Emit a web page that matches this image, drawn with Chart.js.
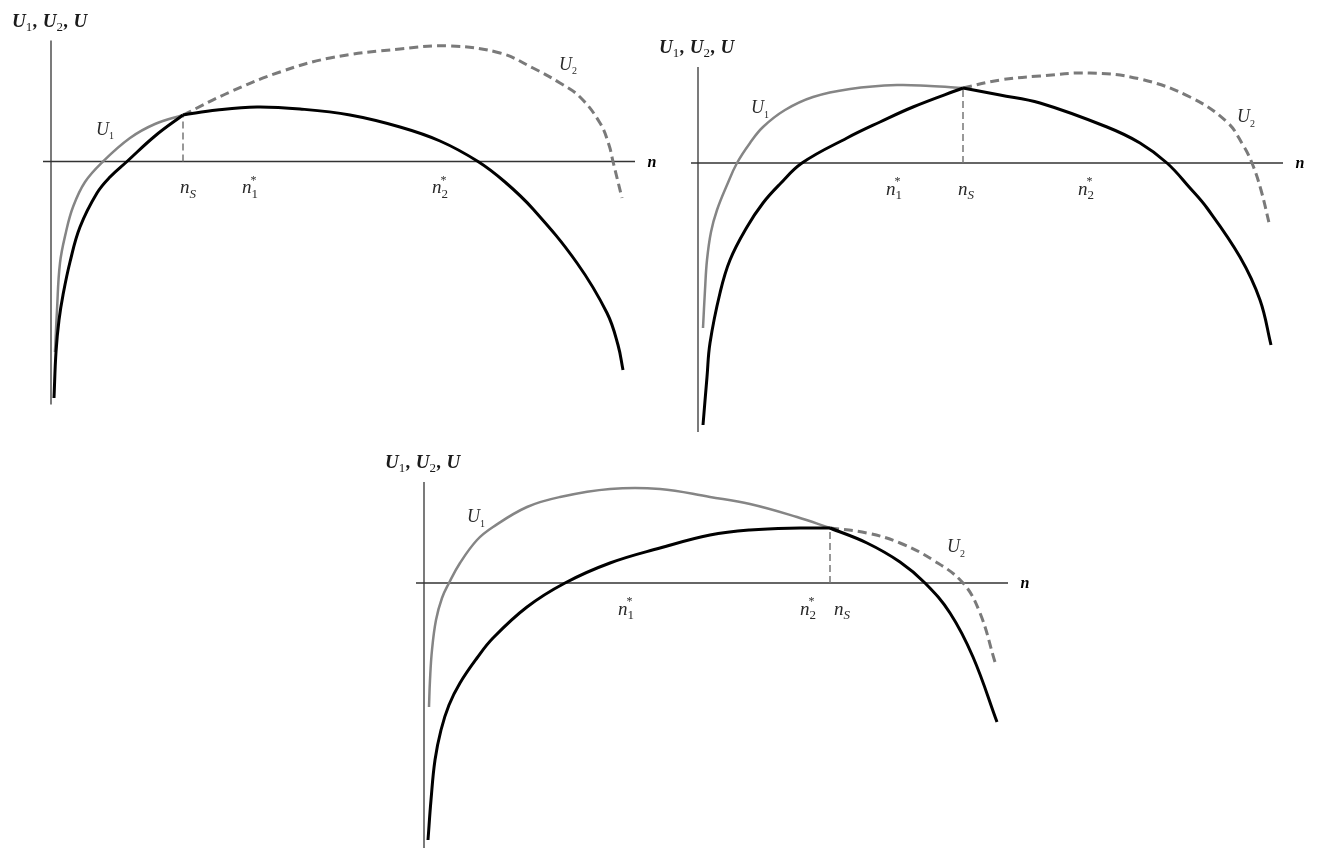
<!DOCTYPE html>
<html>
<head>
<meta charset="utf-8">
<script src="https://cdn.jsdelivr.net/npm/chart.js@4.4.1/dist/chart.umd.min.js"></script>
<style>
  body { margin: 0; background: #fff; width: 1321px; height: 850px; position: relative; overflow: hidden; }
  canvas { position: absolute; }
</style>
</head>
<body>
<canvas id="c1" width="660" height="420" style="left:0px;top:0px"></canvas>
<canvas id="c2" width="666" height="430" style="left:655px;top:20px"></canvas>
<canvas id="c3" width="690" height="405" style="left:370px;top:445px"></canvas>
<script>
// values, origin = axes crossing, y up

// panel 1 (top left)
const p1U1 = [[4,-190.5],[6,-148.5],[9,-101.5],[15,-70.5],[22,-45.5],[34,-20.5],[52,0],[79,23.5],[104,37.5],[132,46.5]];
const p1U = [[3,-236.5],[5,-190.5],[8,-158.5],[12,-133.5],[19,-100.5],[29,-65.5],[46,-31.5],[59,-15.5],[76,0],[104,25.5],[132,46.5],
             [166,51.5],[206,54.5],[249,52.5],[299,46.5],[349,34.5],[389,20.5],[427,0],[454,-20.5],[482,-47.5],[526,-101.5],
             [556,-151.5],[567,-183.5],[572,-208.5]];
const p1U2 = [[132,46.5],[179,69.5],[229,89.5],[279,103.5],[349,112.5],[399,115.5],[449,108.5],[482,93.5],[509,78.5],
              [529,64.5],[549,38.5],[558,16.5],[562,0],[571,-36.5]];
const p1nS = 132;
const p1XAxis = [-8, 584];
const p1YAxis = [-243, 121];
const p1Ticks = [['n','S','',137], ['n','1','*',199], ['n','2','*',389]];
const p1Names = [['U','1',54,32], ['U','2',517,97]];

// panel 2 (top right)
const p2U1 = [[5,-165],[7,-127],[9,-97],[13,-69],[19,-47],[29,-22],[39,0],[52,20],[65,36],[87,53],[115,66],[152,74],[199,78],[232,77],[265,75]];
const p2U = [[5,-262],[9,-214],[12,-180],[22,-130],[32,-97],[49,-64],[65,-40],[82,-21],[104,0],[149,25],[182,41],[215,56],[265,75],
             [302,68],[342,60],[409,36],[442,20],[469,0],[492,-25],[509,-45],[542,-94],[562,-137],[573,-182]];
const p2U2 = [[265,75],[302,83],[342,87],[392,90],[442,84],[492,66],[529,41],[545,18],[554,0],[563,-27],[572,-64]];
const p2nS = 265;
const p2XAxis = [-7, 585];
const p2YAxis = [-269, 96];
const p2Ticks = [['n','1','*',196], ['n','S','',268], ['n','2','*',388]];
const p2Names = [['U','1',62,55], ['U','2',548,46]];

// panel 3 (bottom)
const p3U1 = [[5,-124],[6,-97],[8,-67],[12,-37],[18,-15],[25,0],[36,20],[53,43],[69,56],[103,76],[136,86],[186,94],[236,94],
              [286,86],[326,79],[373,66],[406,55]];
const p3U = [[4,-257],[7,-217],[11,-177],[17,-147],[25,-122],[36,-100],[53,-75],[69,-55],[103,-24],[141,0],[186,20],[236,35],[286,48],
             [326,53],[376,55],[406,55],[443,40],[476,21],[501,0],[526,-30],[549,-74],[573,-139]];
const p3U2 = [[406,55],[443,50],[476,40],[509,23],[539,0],[556,-30],[571,-79]];
const p3nS = 406;
const p3XAxis = [-8, 584];
const p3YAxis = [-265, 101];
const p3Ticks = [['n','1','*',202], ['n','2','*',384], ['n','S','',418]];
const p3Names = [['U','1',52,66], ['U','2',532,36]];

const SERIF = '"Liberation Serif", "DejaVu Serif", serif';

function pts(arr) {
  return arr.map(p => ({ x: p[0], y: p[1] }));
}

// letter with subscript and optional star above it
function drawSymbol(ctx, base, sub, sup, cx, cy, size, subSize) {
  ctx.font = 'italic ' + size + 'px ' + SERIF;
  const wb = ctx.measureText(base).width;
  const subFont = (sub === 'S' ? 'italic ' : '') + subSize + 'px ' + SERIF;
  ctx.font = subFont;
  const ws = ctx.measureText(sub).width;
  const x0 = cx - (wb + ws) / 2;
  const by = cy + size * 0.3;
  ctx.font = 'italic ' + size + 'px ' + SERIF;
  ctx.fillText(base, x0, by);
  ctx.font = subFont;
  ctx.fillText(sub, x0 + wb, by + size * 0.25);
  if (sup) {
    ctx.font = Math.round(subSize * 0.9) + 'px ' + SERIF;
    ctx.fillText(sup, x0 + wb - 1, by - size * 0.5);
  }
}

function drawTitle(ctx, x, cy) {
  const parts = [['U', 0], ['1', 1], [', ', 0], ['U', 0], ['2', 1], [', ', 0], ['U', 0]];
  let px = x;
  const by = cy + 6;
  parts.forEach(p => {
    ctx.font = p[1] ? '13px ' + SERIF : 'bold italic 19px ' + SERIF;
    ctx.fillText(p[0], px, by + (p[1] ? 4 : 0));
    px += ctx.measureText(p[0]).width + (p[1] ? 1 : 0);
  });
}

const labelPlugin = {
  id: 'mathLabels',
  afterDraw(chart, args, opts) {
    const ctx = chart.ctx;
    const xs = chart.scales.x, ys = chart.scales.y;
    ctx.save();
    ctx.textBaseline = 'alphabetic';
    ctx.fillStyle = '#2a2a2a';
    opts.ticks.forEach(t => {
      drawSymbol(ctx, t[0], t[1], t[2], xs.getPixelForValue(t[3]), ys.getPixelForValue(0) + 26, 19, 13);
    });
    opts.names.forEach(t => {
      drawSymbol(ctx, t[0], t[1], '', xs.getPixelForValue(t[2]), ys.getPixelForValue(t[3]), 18, 10);
    });
    ctx.fillStyle = '#000';
    ctx.font = 'bold italic 16px ' + SERIF;
    ctx.textAlign = 'center';
    ctx.fillText('n', xs.getPixelForValue(opts.xAxis[1]) + 17, ys.getPixelForValue(0) + 5);
    ctx.textAlign = 'left';
    ctx.fillStyle = '#1a1a1a';
    drawTitle(ctx, xs.getPixelForValue(-39), ys.getPixelForValue(opts.yAxis[1]) - 20);
    ctx.restore();
  }
};

function makePanel(id, ox, oy, u, u1, u2, nS, xAxis, yAxis, ticks, names) {
  const canvas = document.getElementById(id);
  const w = canvas.width, h = canvas.height;
  const curve = { showLine: true, pointRadius: 0, fill: false, tension: 0.4 };
  // U has a corner at n_S, so it is drawn in two pieces
  const k = u.findIndex(p => p[0] === nS);
  const uLeft = u.slice(0, k + 1), uRight = u.slice(k);
  new Chart(canvas, {
    type: 'scatter',
    data: {
      datasets: [
        Object.assign({ data: pts(uLeft), borderColor: '#000', borderWidth: 3 }, curve),
        Object.assign({ data: pts(uRight), borderColor: '#000', borderWidth: 3 }, curve),
        Object.assign({ data: pts(u1), borderColor: '#858585', borderWidth: 2.5 }, curve),
        Object.assign({ data: pts(u2), borderColor: '#7a7a7a', borderWidth: 3, borderDash: [9, 5] }, curve),
        { data: pts([[nS, 0], [nS, u[k][1]]]), showLine: true, pointRadius: 0,
          borderColor: '#777', borderWidth: 1.5, borderDash: [7, 4] },
        { data: pts([[xAxis[0], 0], [xAxis[1], 0]]), showLine: true, pointRadius: 0, borderColor: '#333', borderWidth: 1.3 },
        { data: pts([[0, yAxis[0]], [0, yAxis[1]]]), showLine: true, pointRadius: 0, borderColor: '#333', borderWidth: 1.3 }
      ]
    },
    options: {
      responsive: false,
      animation: false,
      layout: { padding: 0 },
      scales: {
        x: { type: 'linear', display: false, min: -ox, max: w - ox },
        y: { type: 'linear', display: false, min: oy - h, max: oy }
      },
      plugins: {
        legend: { display: false },
        tooltip: { enabled: false },
        mathLabels: { ticks: ticks, names: names, xAxis: xAxis, yAxis: yAxis }
      }
    },
    plugins: [labelPlugin]
  });
}

makePanel('c1', 51, 161.5, p1U, p1U1, p1U2, p1nS, p1XAxis, p1YAxis, p1Ticks, p1Names);
makePanel('c2', 43, 143, p2U, p2U1, p2U2, p2nS, p2XAxis, p2YAxis, p2Ticks, p2Names);
makePanel('c3', 54, 138, p3U, p3U1, p3U2, p3nS, p3XAxis, p3YAxis, p3Ticks, p3Names);
</script>
</body>
</html>
